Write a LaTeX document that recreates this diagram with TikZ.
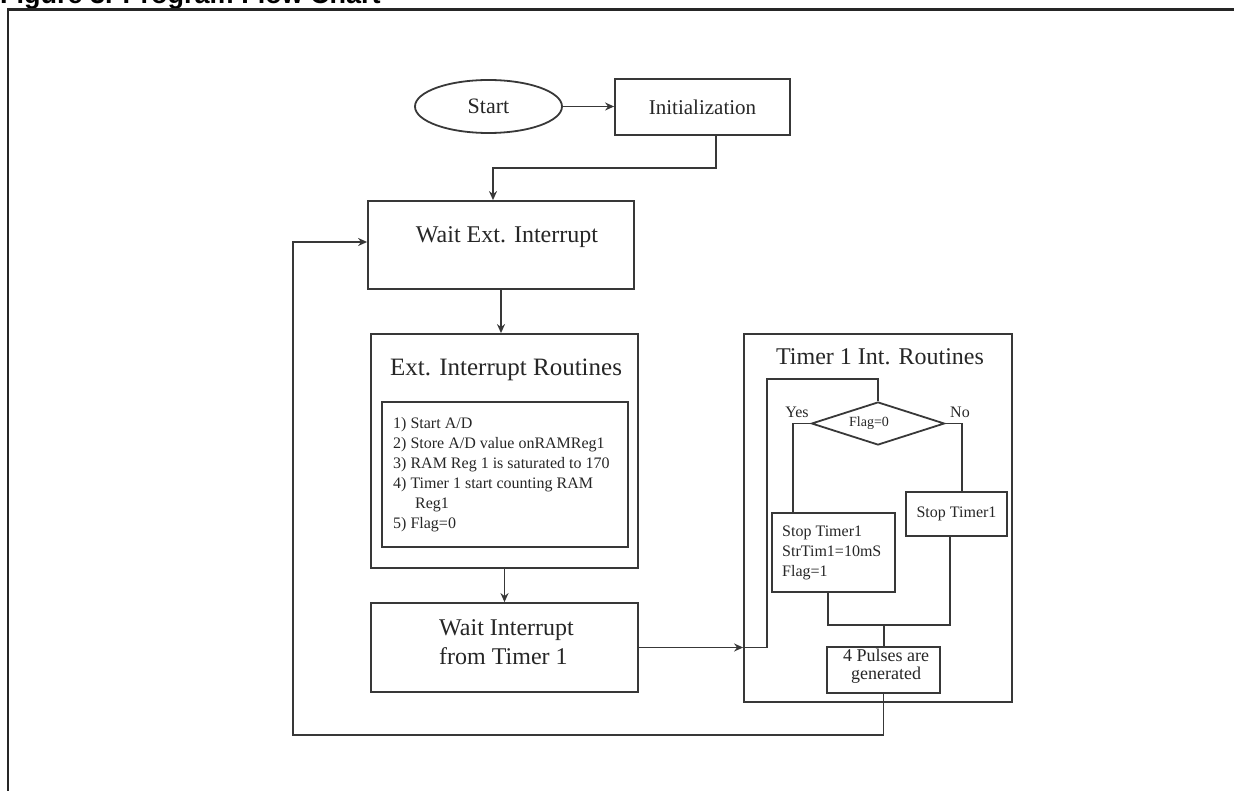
\documentclass[tikz,border=0pt]{standalone}
\usepackage{fontspec}
\setmainfont{Liberation Serif}
\newfontfamily\titlefont{Liberation Sans}
\usetikzlibrary{positioning,shapes.geometric,arrows.meta}

\tikzset{
  flow/.style={draw=black!78, line width=1.8pt},
  box/.style={flow, rectangle, inner sep=0pt},
  arr/.style={flow, -{Stealth[length=9pt,width=8pt]}},
  txt/.style={inner sep=0pt, text=black!85, font=\fontsize{16}{20}\selectfont},
  big/.style={inner sep=0pt, text=black!85},
}

\begin{document}
\begin{tikzpicture}[x=10pt,y=-10pt]
			\useasboundingbox (0,0) rectangle (123.4,79.1);

			% Title and page frame
			\node[anchor=base west, inner sep=0pt, font=\titlefont\bfseries\fontsize{27}{30}\selectfont] (title) at (0,0.4) {Figure 3. Program Flow Chart};
			\draw[black!85, line width=2.2pt] (0.8,79.6) -- (0.8,0.95) -- (124,0.95);

			% Start and initialization
			\node[flow, ellipse, minimum width=147pt, minimum height=53pt, big, font=\fontsize{22}{24}\selectfont] (start) at (48.85,10.65) {Start};
			\node[box, big, minimum width=175pt, minimum height=56pt, font=\fontsize{21}{24}\selectfont] (init) at (70.25,10.7) {Initialization};
			\draw[arr] (start.east) -- (start.east -| init.west);

			% Wait ext. interrupt
			\node[box, minimum width=266pt, minimum height=88pt] (waitext) at (50.1,24.5) {};
			\node[big, font=\fontsize{24}{26}\selectfont] (waitexttxt) at (50.7,23.7) {Wait Ext. Interrupt};
			\draw[arr] ([xshift=13.5pt]init.south) -- ++(0,3.2) -| ([xshift=-8pt]waitext.north);

			% Ext. interrupt routines
			\node[box, minimum width=267pt, minimum height=234pt] (extir) at (50.45,45.1) {};
			\node[big, font=\fontsize{25}{27}\selectfont] (extirtitle) at (50.6,37.0) {Ext. Interrupt Routines};
			\node[box, minimum width=246pt, minimum height=145pt] (extlist) at (50.5,47.45) {};
			\node[txt, anchor=north west, align=left] (extlisttxt) at (39.3,41.7) {1) Start A/D\\2) Store A/D value onRAMReg1\\3) RAM Reg 1 is saturated to 170\\4) Timer 1 start counting RAM\\\hspace*{22pt}Reg1\\5) Flag=0};
			\draw[arr] (waitext.south) -- (waitext.south |- extir.north);

			% Wait interrupt from timer 1
			\node[box, minimum width=267pt, minimum height=89pt] (waittmr) at (50.45,64.75) {};
			\node[big, anchor=west, align=left, font=\fontsize{24}{29}\selectfont] (waittmrtxt) at (43.9,64.25) {Wait Interrupt\\from Timer 1};
			\draw[arr] (extir.south) -- (extir.south |- waittmr.north);

			% Timer 1 int. routines
			\node[box, minimum width=268pt, minimum height=368pt] (timer) at (87.8,51.8) {};
			\node[big, font=\fontsize{24}{26}\selectfont] (timertitle) at (88.0,35.7) {Timer 1 Int. Routines};
			\node[flow, diamond, inner sep=0pt, minimum width=133pt, minimum height=43pt] (cond) at (87.8,42.35) {};
			\node[big, font=\fontsize{14}{16}\selectfont] (condtxt) at (86.9,42.3) {Flag=0};
			\node[txt] (yes) at (79.7,41.2) {Yes};
			\node[txt] (no) at (96.0,41.2) {No};

			\node[box, minimum width=123pt, minimum height=79pt] (stopa) at (83.35,55.25) {};
			\node[txt, anchor=west, align=left] (stopatxt) at (78.2,55.3) {Stop Timer1\\StrTim1=10mS\\Flag=1};
			\node[box, txt, draw=black!78, minimum width=101pt, minimum height=44pt] (stopb) at (95.65,51.4) {Stop Timer1};

			\node[box, minimum width=113pt, minimum height=46pt] (pulse) at (88.35,67.0) {};
			\node[big, align=center, font=\fontsize{18}{18}\selectfont] (pulsetxt) at (88.6,66.6) {4 Pulses are\\generated};

			% Connectors inside the timer routine
			\coordinate (looptop) at (76.7,37.9);
			\coordinate (join) at (88.4,62.5);
			\draw[arr] (waittmr.east) -- (waittmr.east -| timer.west);
			\draw[flow] (waittmr.east -| timer.west) -| (looptop) -| (cond.north);
			\draw[flow] (cond.west) -| ([xshift=-40.5pt]stopa.north);
			\draw[flow] (cond.east) -| ([xshift=5.5pt]stopb.north);
			\draw[flow] ([xshift=-5.5pt]stopa.south) |- (join) -| ([xshift=-6.5pt]stopb.south);
			\draw[flow] (join) -- (join |- pulse.north);

			% Back to wait ext. interrupt
			\coordinate (retcorner) at (29.3,73.5);
			\draw[arr] (pulse.south) |- (retcorner) |- ([yshift=3pt]waitext.west);
\end{tikzpicture}
\end{document}
